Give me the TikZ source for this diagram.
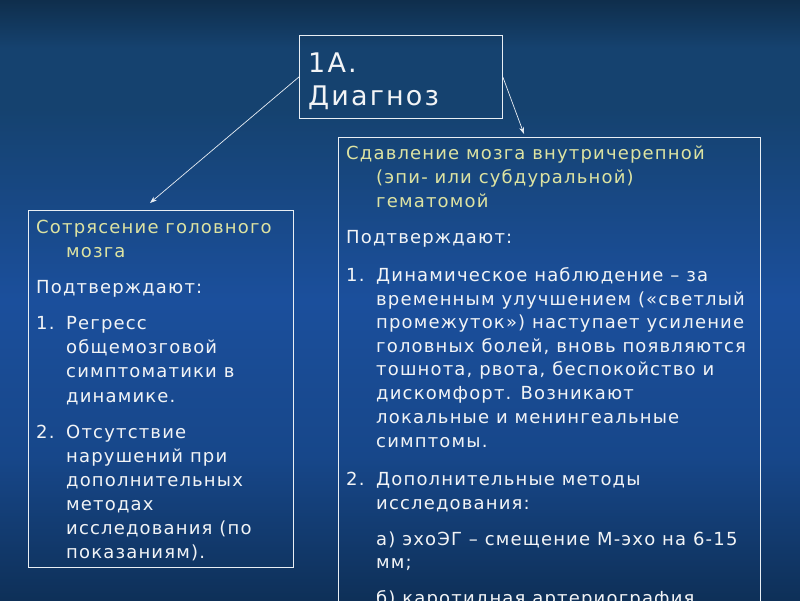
\documentclass[tikz,border=0pt]{standalone}
\usepackage{fontspec}
\setmainfont{DejaVu Sans}[LetterSpace=6.5]
\newfontfamily\ttlfont{DejaVu Sans}[LetterSpace=8]
\usetikzlibrary{arrows.meta}
\definecolor{bgtop}{HTML}{0F2E4C}
\definecolor{bgup}{HTML}{15426F}
\definecolor{bgmid}{HTML}{1B4F9C}
\definecolor{bglow}{HTML}{17478A}
\definecolor{bgbot}{HTML}{0E3058}
\definecolor{boxline}{HTML}{E8EEF4}
\definecolor{bodytext}{HTML}{F2F4F6}
\definecolor{headtext}{HTML}{DDE3A2}
\pgfdeclareverticalshading{bgshade}{100bp}{color(0bp)=(bgbot); color(25bp)=(bgbot); color(37bp)=(bglow); color(50bp)=(bgmid); color(66bp)=(bgup); color(71bp)=(bgup); color(75bp)=(bgtop); color(100bp)=(bgtop)}
\begin{document}
\begin{tikzpicture}[x=1pt,y=-1pt,
  box/.style={draw=boxline, line width=0.8pt, inner sep=0pt, anchor=north west},
  ln/.style={anchor=base west, inner sep=0pt, font=\fontsize{18}{22}\selectfont, text=bodytext},
  hd/.style={ln, text=headtext},
  ttl/.style={anchor=base west, inner sep=0pt, font=\ttlfont\fontsize{27}{33}\selectfont, text=bodytext},
  conn/.style={draw=boxline, line width=0.7pt, -{Stealth[length=7pt,width=5pt]}}]
\useasboundingbox (0,0) rectangle (800,600);
\clip (0,0) rectangle (800,600);
\shade[shading=bgshade] (0,0) rectangle (800,600);

% boxes
\node[box, minimum width=203pt, minimum height=83pt] (diag) at (299,35) {};
\node[box, minimum width=265pt, minimum height=357pt] (conc) at (28,210) {};
\node[box, minimum width=422pt, minimum height=500pt] (comp) at (338,137) {};

% connectors
\coordinate (lend) at (150,203);
\coordinate (rend) at (524,134);
\draw[conn] (diag.west) -- (lend);
\draw[conn] (diag.east) -- (rend);

% title
\node[ttl] (t1) at (308,72) {1А.};
\node[ttl] (t2) at (308,105) {Диагноз};

% left box
\node[hd] (a1) at (36,233) {Сотрясение головного};
\node[hd] (a2) at (66,257) {мозга};
\node[ln] (a3) at (36,293) {Подтверждают:};
\node[ln] (a4n) at (36,329) {1.};
\node[ln] (a4) at (66,329) {Регресс};
\node[ln] (a5) at (66,353) {общемозговой};
\node[ln] (a6) at (66,377) {симптоматики в};
\node[ln] (a7) at (66,402) {динамике.};
\node[ln] (a8n) at (36,438) {2.};
\node[ln] (a8) at (66,438) {Отсутствие};
\node[ln] (a9) at (66,462) {нарушений при};
\node[ln] (a10) at (66,486) {дополнительных};
\node[ln] (a11) at (66,510) {методах};
\node[ln] (a12) at (66,534) {исследования (по};
\node[ln] (a13) at (66,558) {показаниям).};

% right box
\node[hd] (b1) at (346,159) {Сдавление мозга внутричерепной};
\node[hd] (b2) at (376,183) {(эпи- или субдуральной)};
\node[hd] (b3) at (376,207) {гематомой};
\node[ln] (b4) at (346,243) {Подтверждают:};
\node[ln] (b5n) at (346,281) {1.};
\node[ln] (b5) at (376,281) {Динамическое наблюдение – за};
\node[ln] (b6) at (376,305) {временным улучшением («светлый};
\node[ln] (b7) at (376,328) {промежуток») наступает усиление};
\node[ln] (b8) at (376,352) {головных болей, вновь появляются};
\node[ln] (b9) at (376,375) {тошнота, рвота, беспокойство и};
\node[ln] (b10) at (376,399) {дискомфорт. Возникают};
\node[ln] (b11) at (376,423) {локальные и менингеальные};
\node[ln] (b12) at (376,447) {симптомы.};
\node[ln] (b13n) at (346,485) {2.};
\node[ln] (b13) at (376,485) {Дополнительные методы};
\node[ln] (b14) at (376,509) {исследования:};
\node[ln] (b15) at (376,545) {а) эхоЭГ – смещение М-эхо на 6-15};
\node[ln] (b16) at (376,568) {мм;};
\node[ln] (b17) at (376,604) {б) каротидная артериография};
\end{tikzpicture}
\end{document}
